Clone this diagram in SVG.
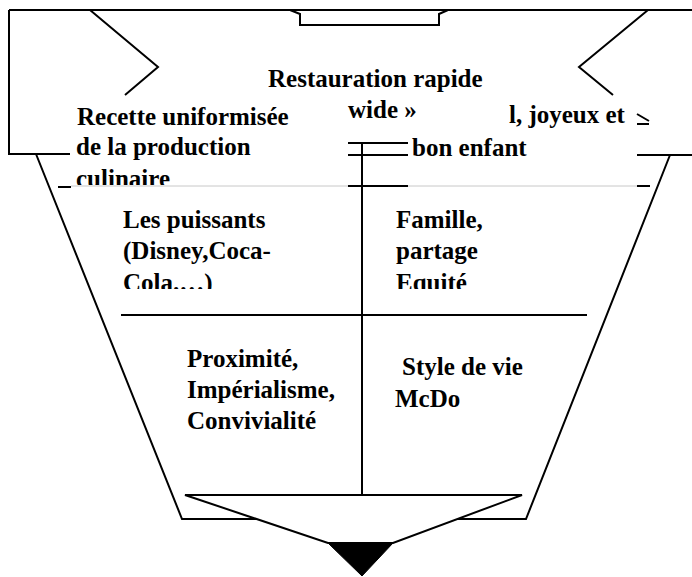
<svg xmlns="http://www.w3.org/2000/svg" width="692" height="577" viewBox="0 0 692 577">
<style>
.ln{fill:none;stroke:#000;stroke-width:2;stroke-linejoin:miter}
.thin{fill:none;stroke:#c8c8c8;stroke-width:1}
.t{font-family:"Liberation Serif","Times New Roman",serif;font-weight:bold;font-size:25px;fill:#000}
</style>
<defs>
<clipPath id="clipTop"><rect x="0" y="0" width="692" height="185"/></clipPath>
<clipPath id="clipMid"><rect x="0" y="0" width="692" height="289"/></clipPath>
</defs>
<rect width="692" height="577" fill="#fff"/>
<g id="connectors">
<path class="ln" d="M9,10 H692"/>
<path class="ln" d="M9,10 V154 H70"/>
<path class="ln" d="M290,10 L300,14 V25 H439 V14 L448,10"/>
<path class="ln" d="M90,10 L158,67 L125,95"/>
<path class="ln" d="M648,10 L579,67 L613,95"/>
<path class="ln" d="M637,114 L649,121 M637,124 H649"/>
<path class="ln" d="M637,155 H692"/>
<path class="thin" d="M71,186 H637"/>
<path class="ln" d="M58,187 H71 M348,186 H408 M637,186 H650"/>
<path class="ln" d="M348,143 H408 M348,155 H408"/>
<path class="ln" d="M36,154 L182,519 H526 L670,155"/>
<path class="ln" d="M362,143 V495"/>
<path class="ln" d="M121,315 H587"/>
</g>
<g id="arrow">
<polygon points="185,495 522,495 393,543 328,543" fill="#fff" stroke="#000" stroke-width="2"/>
<polygon points="328,543 393,543 362,576" fill="#000" stroke="#000" stroke-width="1"/>
</g>
<g id="node-top">
<text class="t" x="268" y="87">Restauration rapide</text>
<text class="t" x="348" y="118">wide »</text>
<text class="t" x="509" y="123">l, joyeux et</text>
<text class="t" x="412" y="156">bon enfant</text>
</g>
<g id="node-recette">
<text class="t" x="77" y="125">Recette uniformisée</text>
<text class="t" x="76" y="155">de la production</text>
<text class="t" x="76" y="187" clip-path="url(#clipTop)">culinaire</text>
</g>
<g id="node-puissants" clip-path="url(#clipMid)">
<text class="t" x="123" y="228">Les puissants</text>
<text class="t" x="123" y="259">(Disney,Coca-</text>
<text class="t" x="123" y="291">Cola.…)</text>
</g>
<g id="node-famille" clip-path="url(#clipMid)">
<text class="t" x="396" y="228">Famille,</text>
<text class="t" x="396" y="259">partage</text>
<text class="t" x="396" y="291">Equité</text>
</g>
<g id="node-proximite">
<text class="t" x="187" y="367">Proximité,</text>
<text class="t" x="187" y="398">Impérialisme,</text>
<text class="t" x="187" y="429">Convivialité</text>
</g>
<g id="node-style">
<text class="t" x="402" y="375">Style de vie</text>
<text class="t" x="395" y="407">McDo</text>
</g>
</svg>
